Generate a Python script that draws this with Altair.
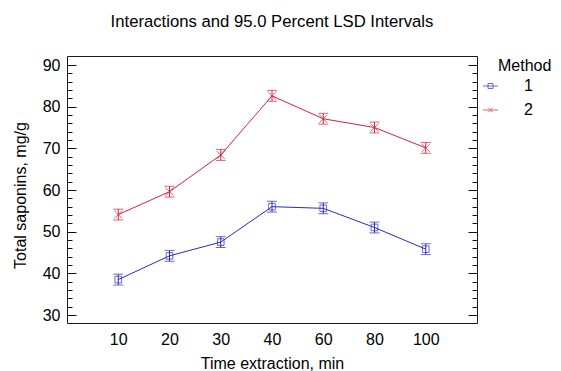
import altair as alt
import pandas as pd

# ---- data ----
times = ["10", "20", "30", "40", "60", "80", "100"]
methods = ["1", "2"]
method_1_means = [38.5, 44.2, 47.5, 56.0, 55.6, 51.0, 45.8]
method_2_means = [54.1, 59.6, 68.4, 82.6, 77.1, 75.0, 70.1]
method_1_lsd = [1.3, 1.3, 1.3, 1.3, 1.3, 1.3, 1.3]
method_2_lsd = [1.3, 1.3, 1.3, 1.3, 1.3, 1.3, 1.3]
major_ticks = [30, 40, 50, 60, 70, 80, 90]
minor_ticks = list(range(30, 91, 2))

colors = ["#2a2ac2", "#d8213a"]
FONT = "Liberation Sans"

rows = []
for m, c, means, errs in [("1", colors[0], method_1_means, method_1_lsd),
                          ("2", colors[1], method_2_means, method_2_lsd)]:
    for t, v, e in zip(times, means, errs):
        rows.append({"time": t, "method": m, "col": c, "value": v, "err": e})
df = pd.DataFrame(rows)

W, H = 410, 267

xscale = alt.Scale(type="point", padding=1.25)
yscale = alt.Scale(domain=[28.08, 92.16], nice=False, zero=False)

x_axis = alt.Axis(title="Time extraction, min", labelAngle=0, ticks=False, tickSize=0,
                  domain=False, labelPadding=8, labelFontSize=16, titleFontSize=16,
                  titleFontWeight="normal", titleY=45, titleBaseline="alphabetic", grid=False)
x_enc = alt.X("time:O", sort=times, scale=xscale, axis=x_axis)

axis_left = alt.Axis(title="Total saponins, mg/g", orient="left", values=major_ticks, ticks=False,
                     tickSize=0, domain=False, labelPadding=7, labelFontSize=16, titleFontSize=16,
                     titleFontWeight="normal", titleX=-42, titleY=139, titleBaseline="alphabetic",
                     grid=False)


def inner_axis(orient, vals, size):
    return alt.Axis(title=None, orient=orient, offset=-W, values=vals, ticks=True, tickSize=size,
                    labels=False, domain=False, grid=False, tickColor="#111111", tickWidth=1)


color = alt.Color("col:N", scale=None)

base = alt.Chart(df)
with_ci = base.transform_calculate(lo="datum.value - datum.err", hi="datum.value + datum.err")

# legend symbols: short line with the series marker, drawn left of the legend title
legend_paths = [
    "M-3.07,0H-1.07M-2.4,-0.33H-1.73V0.33H-2.4Z",
    "M-3.07,0H-1.07M-2.37,-0.3L-1.77,0.3M-2.37,0.3L-1.77,-0.3",
]
leg = alt.Legend(title="Method", orient="none", legendX=431, legendY=2, padding=0,
                 titleFontSize=16, titleFontWeight="normal", titleColor="black", titleFont=FONT,
                 titlePadding=4, labelFontSize=16, labelColor="black", labelFont=FONT,
                 symbolSize=225, labelOffset=10, rowPadding=8,
                 symbolStrokeWidth=1, symbolFillColor="transparent")

legend_layer = base.transform_filter("false").mark_point(filled=False, strokeWidth=1).encode(
    color=alt.Color("method:N", scale=alt.Scale(domain=methods, range=colors), legend=leg),
    shape=alt.Shape("method:N", scale=alt.Scale(domain=methods, range=legend_paths), legend=leg),
)

line = base.mark_line(strokeWidth=1).encode(
    x=x_enc, y=alt.Y("value:Q", scale=yscale, axis=axis_left), color=color, detail="method:N")

rule = with_ci.mark_rule(strokeWidth=1).encode(
    x=x_enc, y=alt.Y("lo:Q", scale=yscale, axis=inner_axis("right", major_ticks, 9)),
    y2="hi:Q", color=color)

cap_hi = with_ci.mark_tick(orient="horizontal", size=10, thickness=1).encode(
    x=x_enc, y=alt.Y("hi:Q", scale=yscale, axis=inner_axis("right", minor_ticks, 5)), color=color)

cap_lo = with_ci.mark_tick(orient="horizontal", size=10, thickness=1).encode(
    x=x_enc, y=alt.Y("lo:Q", scale=yscale, axis=inner_axis("left", major_ticks, 9)), color=color)

squares = base.transform_filter("datum.method == '1'").mark_point(
    shape="square", size=44, filled=False, strokeWidth=1).encode(
    x=x_enc, y=alt.Y("value:Q", scale=yscale, axis=inner_axis("left", minor_ticks, 5)), color=color)

crosses = base.transform_filter("datum.method == '2'").mark_point(
    shape="M-1,-1L1,1M-1,1L1,-1", size=64, filled=False, strokeWidth=1).encode(
    x=x_enc, y=alt.Y("value:Q", scale=yscale, axis=None), color=color)

chart = alt.layer(legend_layer, line, rule, cap_hi, cap_lo, squares, crosses).resolve_axis(
    y="independent"
).properties(
    width=W, height=H,
    autosize=alt.AutoSizeParams(type="none"),
    padding={"left": 59, "top": 48, "right": 76, "bottom": 48},
    title=alt.Title("Interactions and 95.0 Percent LSD Intervals", fontSize=16.7, fontWeight="normal",
                    font=FONT, color="black", anchor="middle", offset=25),
).configure_view(stroke="#1a1a1a", strokeWidth=1).configure_axis(
    labelFont=FONT, titleFont=FONT, labelColor="black", titleColor="black", grid=False
)

chart.save("out.html", embed_options={"renderer": "svg", "actions": False})
